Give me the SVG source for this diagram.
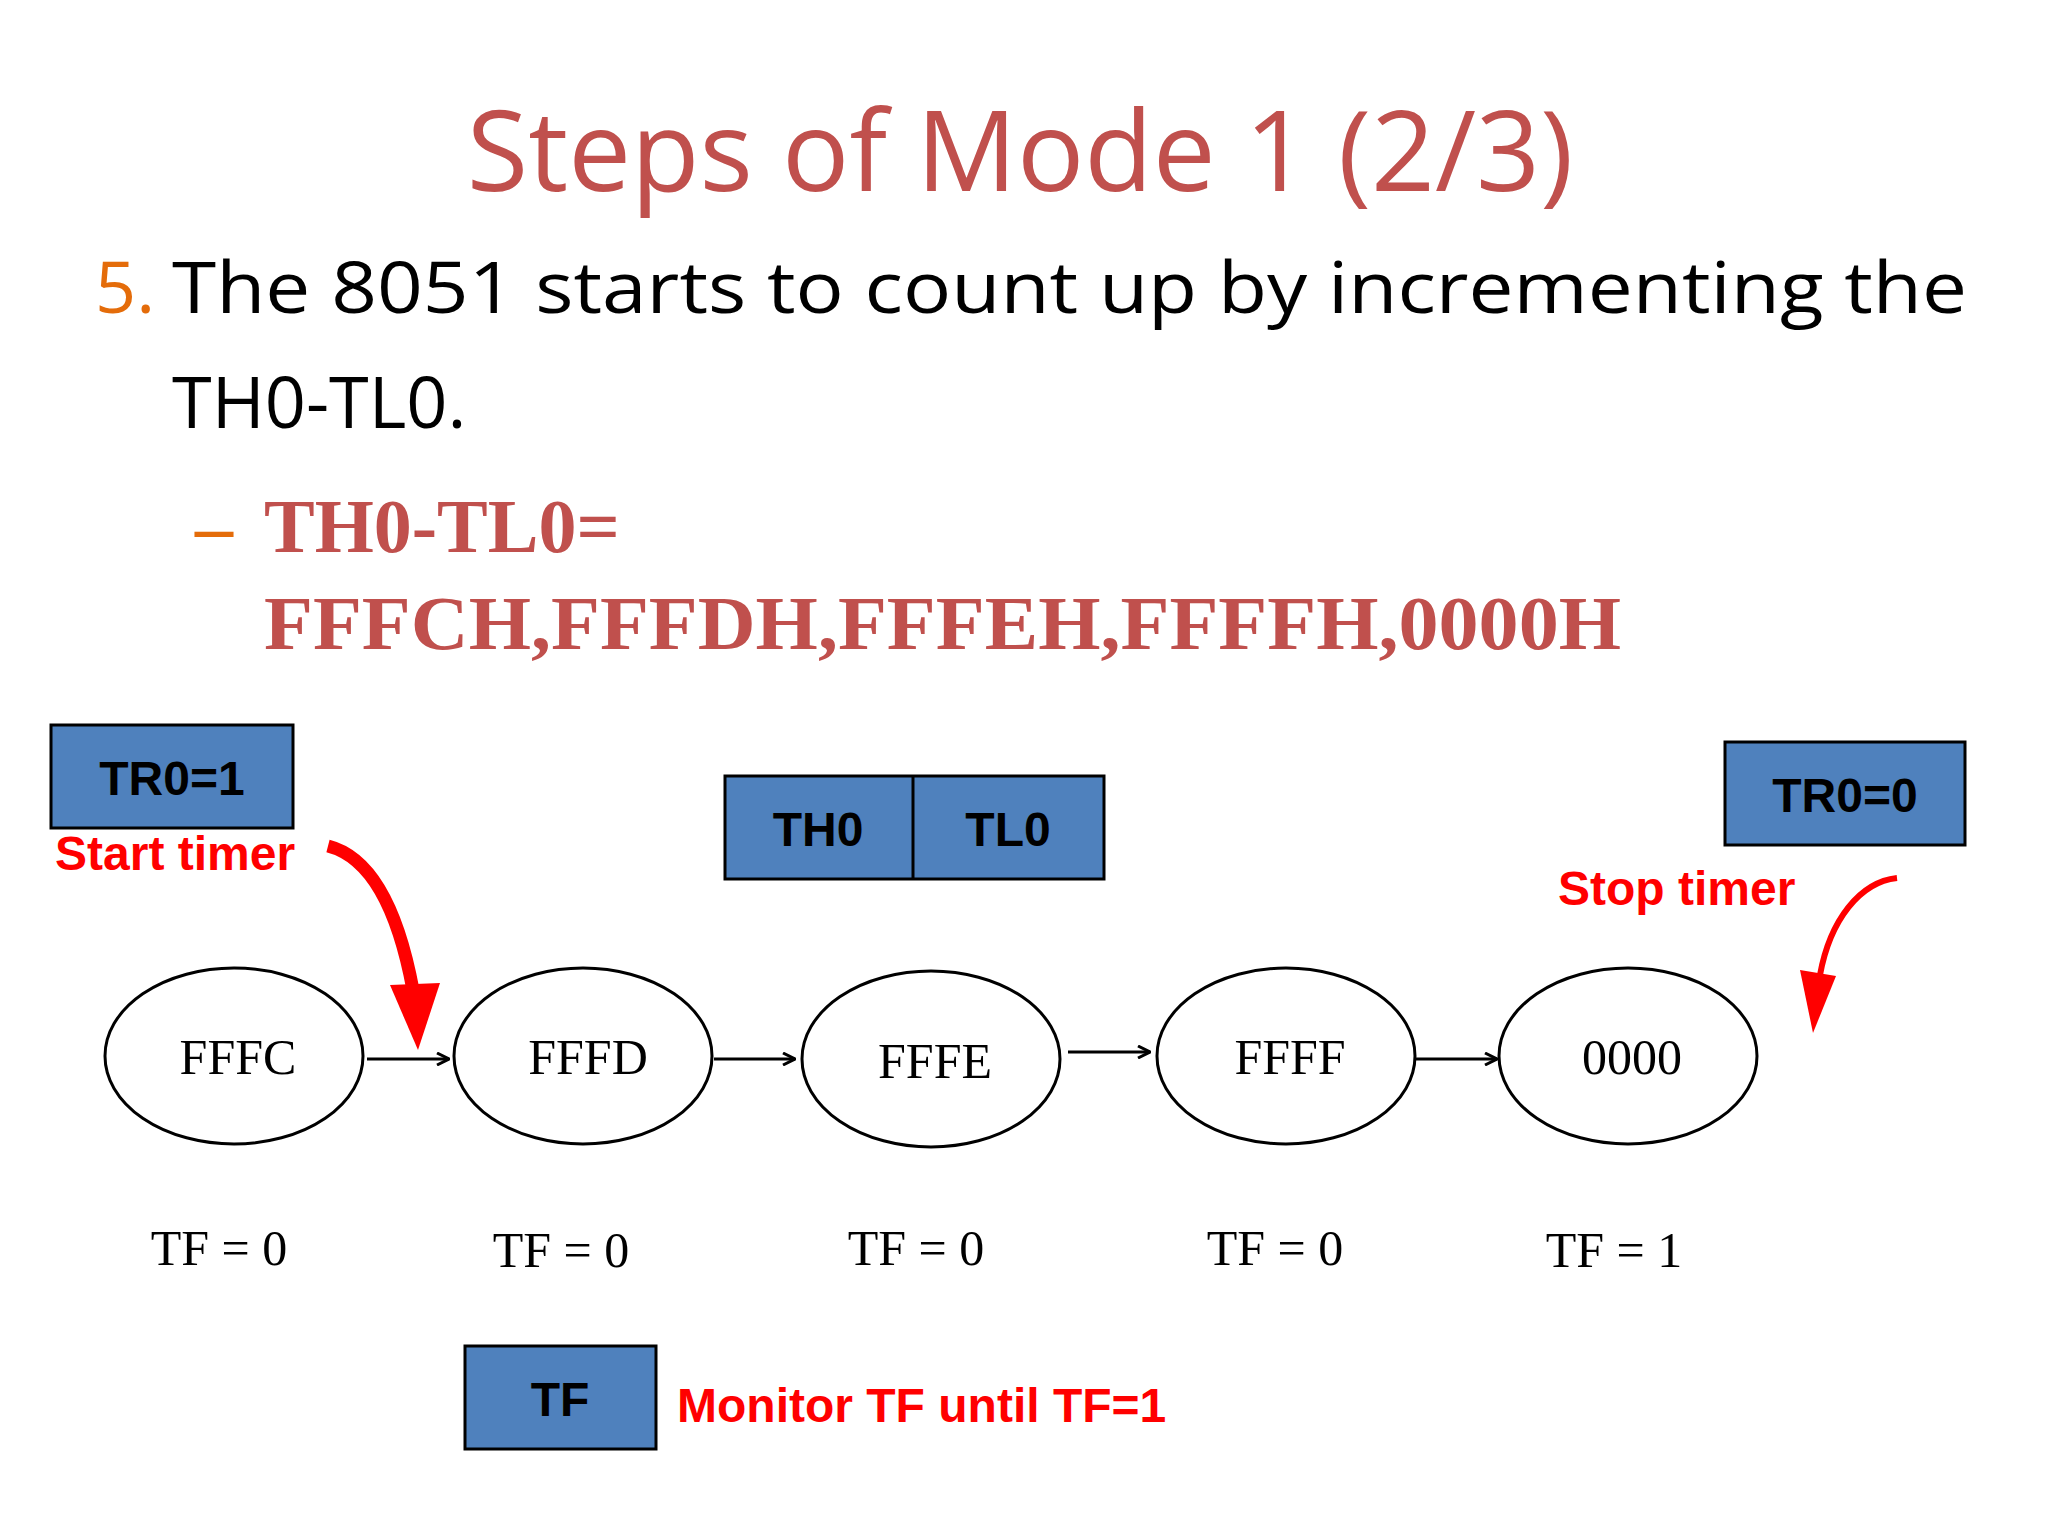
<svg xmlns="http://www.w3.org/2000/svg" width="2048" height="1536" viewBox="0 0 2048 1536">
<style>
.box{fill:#4F81BD;stroke:#000;stroke-width:3}
.bt{font-family:"Liberation Sans",Arial,sans-serif;font-weight:bold;font-size:48px;fill:#000;text-anchor:middle}
.rt{font-family:"Liberation Sans",Arial,sans-serif;font-weight:bold;font-size:48px;fill:#FF0000}
.el{fill:#fff;stroke:#000;stroke-width:3}
.et{font-family:"Liberation Serif","Times New Roman",serif;font-size:50px;fill:#000;text-anchor:middle}
.cn{stroke:#000;stroke-width:3;fill:none;marker-end:url(#ah)}
</style>
<defs>
<marker id="ah" markerWidth="14" markerHeight="14" refX="13" refY="7" orient="auto" markerUnits="userSpaceOnUse"><path d="M1,1 L13,7 L1,13" fill="none" stroke="#000" stroke-width="3"/></marker>
</defs>
<rect width="2048" height="1536" fill="#fff"/>
<text x="1020" y="191" font-family="Open Sans,sans-serif" font-size="112" fill="#C0504D" text-anchor="middle">Steps of Mode 1 (2/3)</text>
<text x="95" y="313" font-family="Open Sans,sans-serif" font-size="72" fill="#E46C0A">5.</text>
<text x="172" y="313" font-family="Open Sans,sans-serif" font-size="72" fill="#000" textLength="1795" lengthAdjust="spacingAndGlyphs">The 8051 starts to count up by incrementing the</text>
<text x="172" y="428" font-family="Open Sans,sans-serif" font-size="72" fill="#000">TH0-TL0.</text>
<text x="195" y="552" font-family="Liberation Serif,serif" font-weight="bold" font-size="76" fill="#E46C0A">–</text>
<text x="264" y="552" font-family="Liberation Serif,serif" font-weight="bold" font-size="76" fill="#C0504D">TH0-TL0=</text>
<text x="264" y="649" font-family="Liberation Serif,serif" font-weight="bold" font-size="76" fill="#C0504D" textLength="1357" lengthAdjust="spacingAndGlyphs">FFFCH,FFFDH,FFFEH,FFFFH,0000H</text>
<g id="tr1"><rect class="box" x="51" y="725" width="242" height="103"/><text class="bt" x="172" y="795">TR0=1</text></g>
<text class="rt" x="55" y="870">Start timer</text>
<g id="thtl"><rect class="box" x="725" y="776" width="379" height="103"/><line x1="913" y1="776" x2="913" y2="879" stroke="#000" stroke-width="3"/><text class="bt" x="818" y="846">TH0</text><text class="bt" x="1008" y="846">TL0</text></g>
<g id="tr0"><rect class="box" x="1725" y="742" width="240" height="103"/><text class="bt" x="1845" y="812">TR0=0</text></g>
<text class="rt" x="1558" y="905">Stop timer</text>
<g id="n1"><ellipse class="el" cx="234" cy="1056" rx="129" ry="88"/><text class="et" x="238" y="1074">FFFC</text></g>
<g id="n2"><ellipse class="el" cx="583" cy="1056" rx="129" ry="88"/><text class="et" x="588" y="1074">FFFD</text></g>
<g id="n3"><ellipse class="el" cx="931" cy="1059" rx="129" ry="88"/><text class="et" x="935" y="1078">FFFE</text></g>
<g id="n4"><ellipse class="el" cx="1286" cy="1056" rx="129" ry="88"/><text class="et" x="1290" y="1074">FFFF</text></g>
<g id="n5"><ellipse class="el" cx="1628" cy="1056" rx="129" ry="88"/><text class="et" x="1632" y="1074">0000</text></g>
<g id="connectors">
<line class="cn" x1="367" y1="1059" x2="449" y2="1059"/>
<line class="cn" x1="714" y1="1059" x2="795" y2="1059"/>
<line class="cn" x1="1068" y1="1052" x2="1150" y2="1052"/>
<line class="cn" x1="1416" y1="1059" x2="1497" y2="1059"/>
<path d="M328,846 C375,858 400,920 413,990" stroke="#FF0000" stroke-width="13" fill="none"/>
<path d="M390,985 L440,983 L418,1050 Z" fill="#FF0000"/>
<path d="M1897,878 C1860,882 1830,920 1820,975" stroke="#FF0000" stroke-width="6" fill="none"/>
<path d="M1800,970 L1836,976 L1813,1033 Z" fill="#FF0000"/>
</g>
<g font-family="Liberation Serif,serif" font-size="50" text-anchor="middle">
<text x="219" y="1265">TF = 0</text><text x="561" y="1267">TF = 0</text><text x="916" y="1265">TF = 0</text><text x="1275" y="1265">TF = 0</text><text x="1614" y="1267">TF = 1</text>
</g>
<g id="tf"><rect class="box" x="465" y="1346" width="191" height="103"/><text class="bt" x="560" y="1416">TF</text></g>
<text class="rt" x="677" y="1422">Monitor TF until TF=1</text>
</svg>
